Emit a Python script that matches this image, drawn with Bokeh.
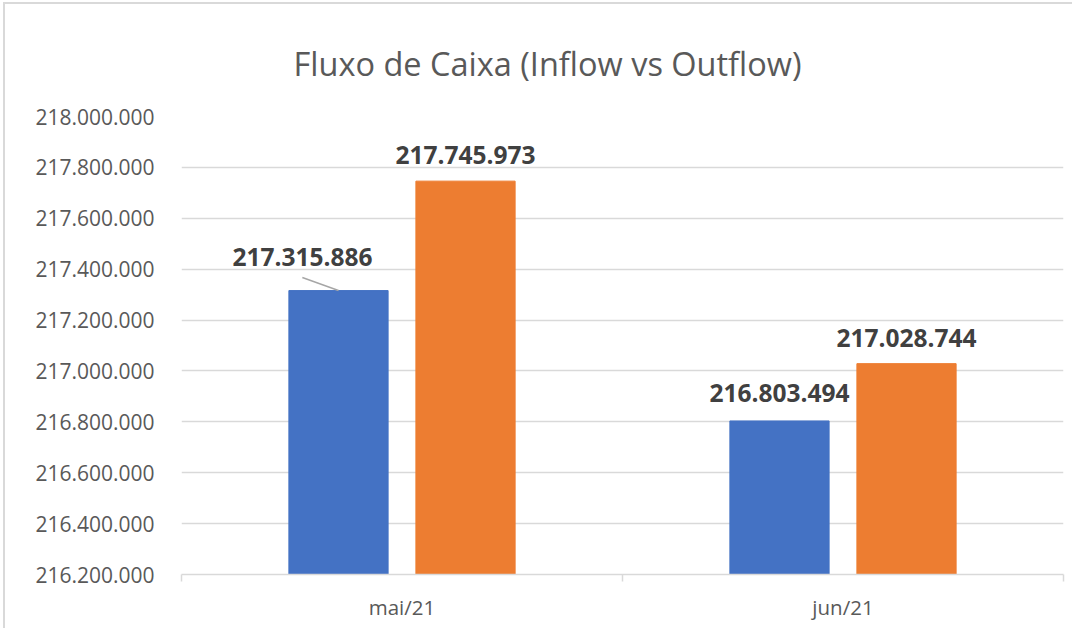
from bokeh.plotting import figure
from bokeh.models import Range1d, FixedTicker, CustomJSTickFormatter, ColumnDataSource
from bokeh.core.properties import value
from bokeh.embed import file_html
from bokeh.resources import INLINE

months = ["mai/21", "jun/21"]
inflow = [217315886, 216803494]
outflow = [217745973, 217028744]
y_ticks = [216200000 + 200000 * i for i in range(10)]
title_text = "Fluxo de Caixa (Inflow vs Outflow)"

y_min, y_max = 216200000, 218000000
BLUE, ORANGE = "#4472C4", "#ED7D31"
FONT = "Open Sans"

def fmt(v):
    return f"{v:,}".replace(",", ".")

p = figure(width=1069, height=626, x_range=Range1d(0, len(months)),
           y_range=Range1d(y_min, y_max), output_backend="svg",
           toolbar_location=None, min_border_left=176, min_border_right=11,
           min_border_top=112, min_border_bottom=56, title=title_text)
p.margin = (2, 0, 0, 3)
p.styles = {"border-top": "2px solid #d9d9d9", "border-left": "2px solid #d9d9d9"}
p.outline_line_color = None
p.title.align = "left"
p.title.offset = 112
p.title.standoff = 62
p.title.text_font = FONT
p.title.text_font_size = "32.5px"
p.title.text_font_style = "normal"
p.title.text_color = "#595959"

centers = [i + 0.5 for i in range(len(months))]
off, bw = 0.144, 0.225
xb = [c - off for c in centers]
xo = [c + off for c in centers]

src_b = ColumnDataSource(dict(x=xb, top=inflow))
src_o = ColumnDataSource(dict(x=xo, top=outflow))
p.vbar(x="x", top="top", bottom=y_min, width=bw, color=BLUE, source=src_b)
p.vbar(x="x", top="top", bottom=y_min, width=bw, color=ORANGE, source=src_o)

lab_kw = dict(text_font=value(FONT), text_font_size="24.5px", text_font_style="bold",
              text_color="#404040", text_align="center", text_baseline="bottom")
p.text(x=xo, y=outflow, text=[fmt(v) for v in outflow], y_offset=-17, **lab_kw)
p.text(x=[xb[1]], y=[inflow[1]], text=[fmt(inflow[1])], y_offset=-19, **lab_kw)
p.text(x=[xb[0]], y=[inflow[0]], text=[fmt(inflow[0])], x_offset=-36, y_offset=-25, **lab_kw)
px_y = (y_max - y_min) / 458
p.segment(x0=[xb[0] - 0.082], y0=[inflow[0] + 13 * px_y], x1=[xb[0]], y1=[inflow[0]],
          line_color="#a6a6a6", line_width=1.5)

# y axis
p.yaxis.ticker = FixedTicker(ticks=y_ticks)
p.yaxis.formatter = CustomJSTickFormatter(code="return tick.toFixed(0).replace(/\\B(?=(\\d{3})+(?!\\d))/g, '.');")
p.yaxis.axis_line_color = None
p.yaxis.major_tick_line_color = None
p.yaxis.minor_tick_line_color = None
p.yaxis.major_tick_out = 0
p.yaxis.major_label_standoff = 27
p.yaxis.major_label_text_font = FONT
p.yaxis.major_label_text_font_size = "21px"
p.yaxis.major_label_text_color = "#595959"

# x axis
p.xaxis.ticker = FixedTicker(ticks=centers, minor_ticks=list(range(len(months) + 1)))
p.xaxis.major_label_overrides = {c: m for c, m in zip(centers, months)}
p.xaxis.axis_line_color = "#d9d9d9"
p.xaxis.axis_line_width = 1.5
p.xaxis.major_tick_line_color = None
p.xaxis.major_tick_out = 0
p.xaxis.minor_tick_line_color = "#d9d9d9"
p.xaxis.minor_tick_line_width = 1.5
p.xaxis.minor_tick_out = 7
p.xaxis.minor_tick_in = 0
p.xaxis.major_label_standoff = 11
p.xaxis.major_label_text_font = FONT
p.xaxis.major_label_text_font_size = "20.5px"
p.xaxis.major_label_text_color = "#595959"

p.xgrid.grid_line_color = None
p.ygrid.grid_line_color = "#d9d9d9"
p.ygrid.grid_line_width = 1.5

open("out.html", "w").write(file_html(p, INLINE))
